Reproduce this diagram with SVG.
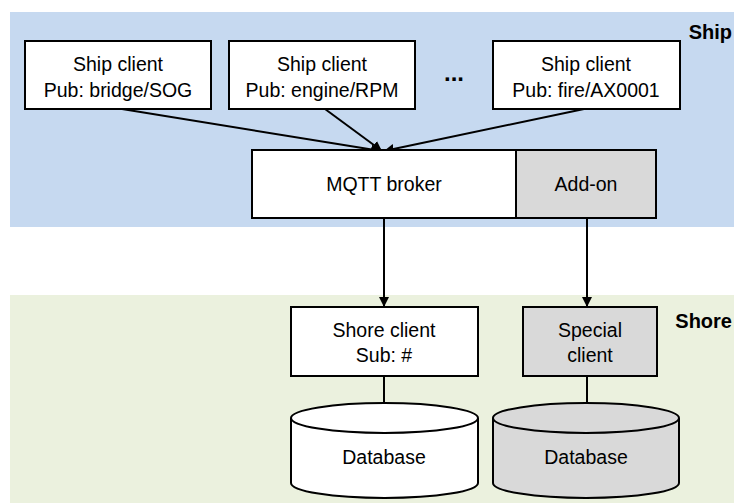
<svg xmlns="http://www.w3.org/2000/svg" width="734" height="503" viewBox="0 0 734 503">
<style>
.bx{stroke:#000;stroke-width:2}
.w{fill:#fff}
.g{fill:#d9d9d9}
text{font-family:"Liberation Sans",Arial,sans-serif;font-size:19.5px;fill:#000;text-anchor:middle}
.lab{font-weight:bold;text-anchor:end;font-size:20px}
.c line{stroke:#000;stroke-width:2;marker-end:url(#ah)}
</style>
<defs>
<marker id="ah" viewBox="0 0 10 10" refX="10" refY="5" markerWidth="5" markerHeight="5" orient="auto" markerUnits="strokeWidth">
<path d="M0,0 L10,5 L0,10 z" fill="#000"/>
</marker>
</defs>
<rect x="10" y="12" width="724" height="215" fill="#c6d9f0"/>
<rect x="10" y="295" width="724" height="208" fill="#ebf1de"/>
<text class="lab" x="732" y="39">Ship</text>
<text class="lab" x="732" y="328">Shore</text>
<g class="c">
<line x1="122" y1="109" x2="381" y2="151"/>
<line x1="325" y1="109" x2="382" y2="151"/>
<line x1="584" y1="109" x2="384" y2="151"/>
<line x1="384" y1="218" x2="384" y2="307"/>
<line x1="587" y1="218" x2="587" y2="307"/>
<line x1="384" y1="376" x2="384" y2="415"/>
<line x1="587" y1="376" x2="587" y2="415"/>
</g>
<g id="ship1"><rect class="bx w" x="25" y="41" width="186" height="68"/><text x="118" y="71">Ship client</text><text x="118" y="97">Pub: bridge/SOG</text></g>
<g id="ship2"><rect class="bx w" x="229" y="41" width="186" height="68"/><text x="322" y="71">Ship client</text><text x="322" y="97">Pub: engine/RPM</text></g>
<g id="dots"><text x="454" y="81" style="font-weight:bold;font-size:24px">...</text></g>
<g id="ship3"><rect class="bx w" x="493" y="41" width="187" height="68"/><text x="586" y="71">Ship client</text><text x="586" y="97">Pub: fire/AX0001</text></g>
<g id="broker"><rect class="bx w" x="252" y="150" width="264" height="68"/><text x="384" y="191">MQTT broker</text></g>
<g id="addon"><rect class="bx g" x="516" y="150" width="140" height="68"/><text x="586" y="191">Add-on</text></g>
<g id="shore"><rect class="bx w" x="291" y="307" width="187" height="69"/><text x="384" y="337">Shore client</text><text x="384" y="362">Sub: #</text></g>
<g id="special"><rect class="bx g" x="523" y="307" width="134" height="69"/><text x="590" y="337">Special</text><text x="590" y="362">client</text></g>
<g id="db1"><path class="bx w" d="M291,418 A93.5,15 0 0 1 478,418 L478,483 A93.5,15 0 0 1 291,483 Z"/><path d="M291,418 A93.5,15 0 0 0 478,418" fill="none" stroke="#000" stroke-width="2"/><text x="384" y="464">Database</text></g>
<g id="db2"><path class="bx g" d="M493,418 A93,15 0 0 1 679,418 L679,483 A93,15 0 0 1 493,483 Z"/><path d="M493,418 A93,15 0 0 0 679,418" fill="none" stroke="#000" stroke-width="2"/><text x="586" y="464">Database</text></g>
</svg>
